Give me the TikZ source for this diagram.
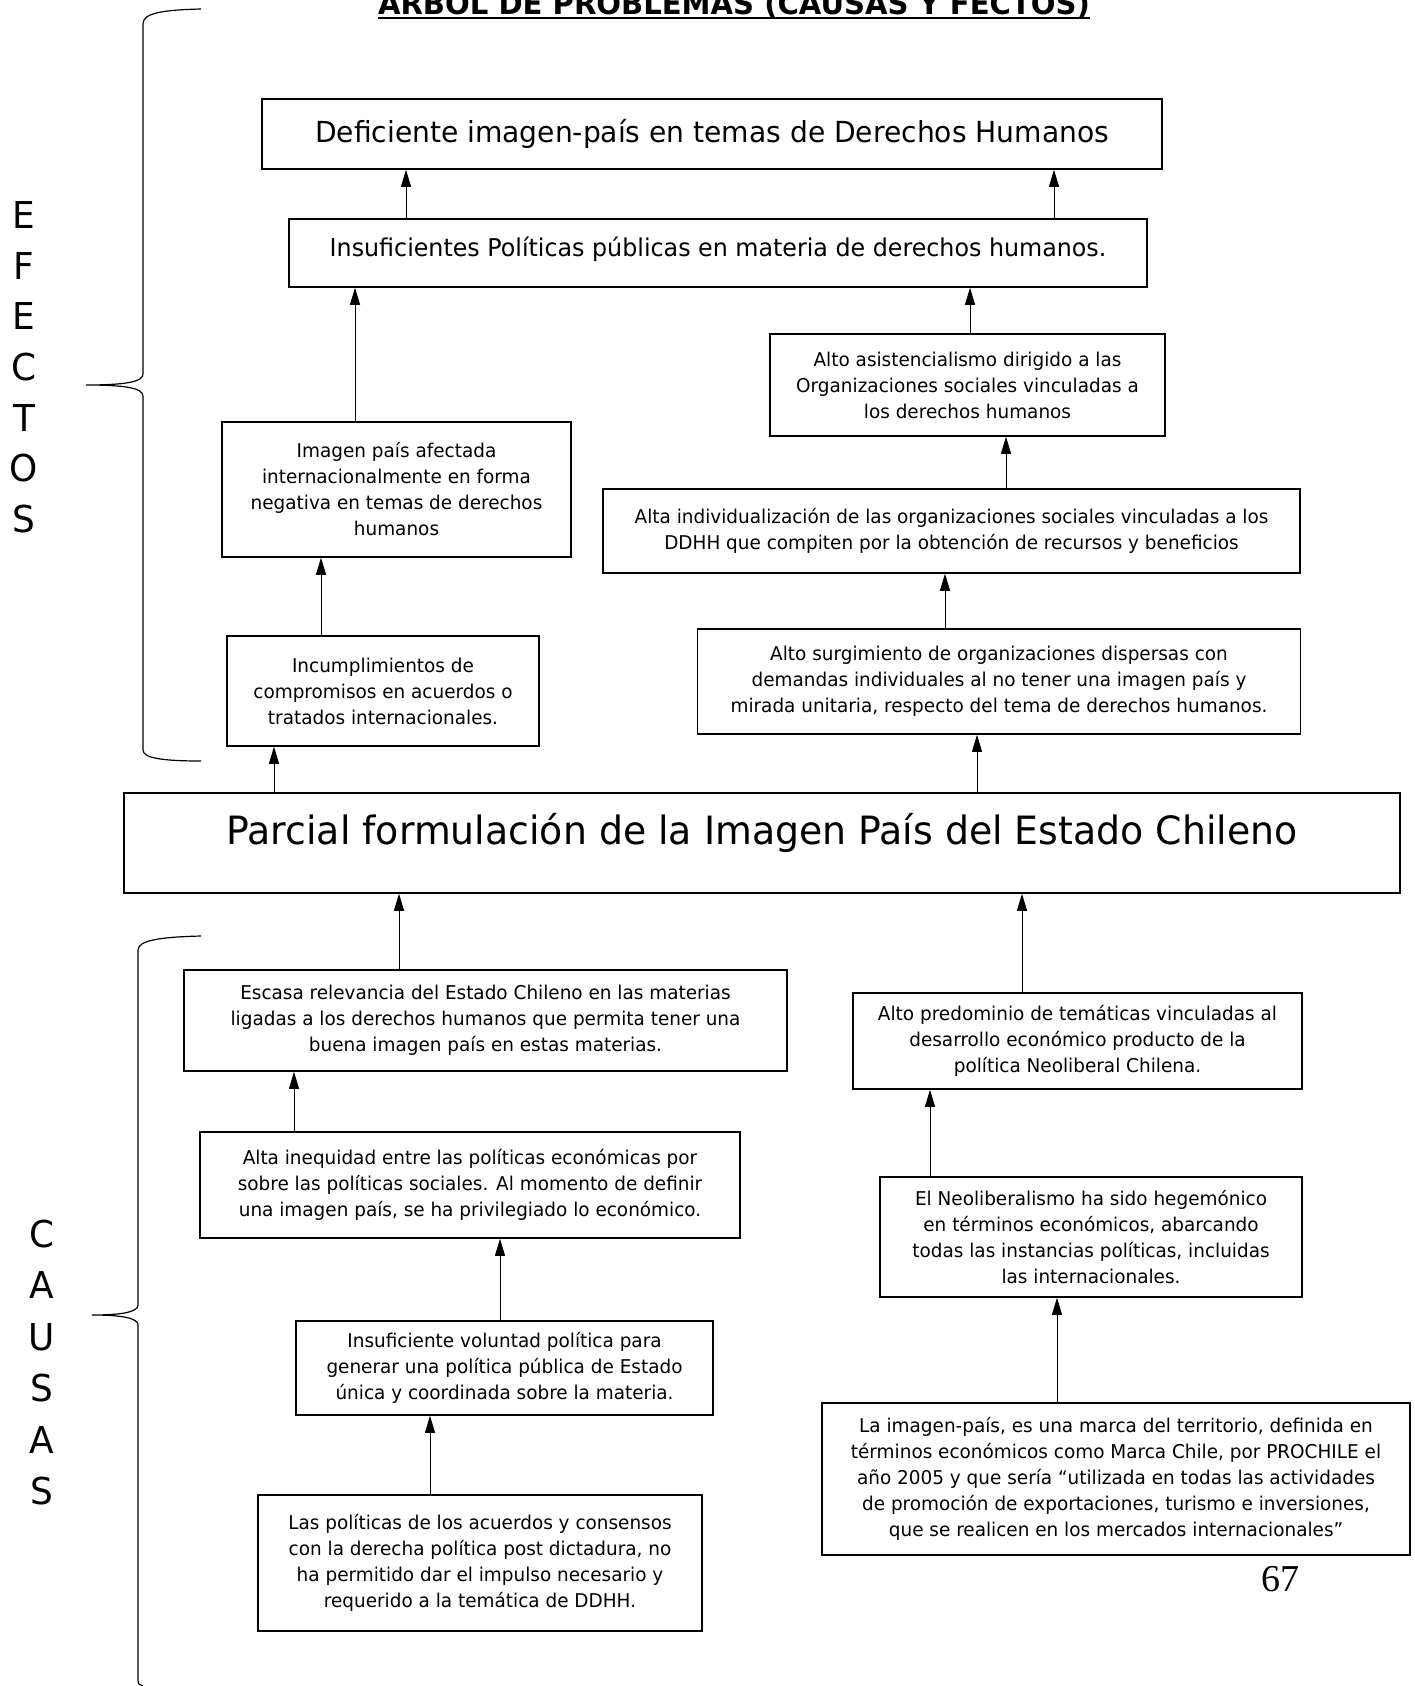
\documentclass[tikz,border=0pt]{standalone}
\usepackage{fontspec}
\setmainfont{DejaVu Sans}[FakeStretch=0.97]
\newfontfamily\folio{Liberation Serif}
\usetikzlibrary{arrows.meta}

\tikzset{
	caja/.style={draw, line width=1.5pt, inner sep=0pt, align=center, font=\fontsize{19}{26}\selectfont},
	flecha/.style={-{Triangle[length=17pt,width=10pt]}, line width=0.9pt},
	letra/.style={font=\fontsize{37}{37}\selectfont, inner sep=0pt},
	llave/.style={line width=1.2pt}
}

\begin{document}
\begin{tikzpicture}[x=1pt, y=-1pt]
	\useasboundingbox (0,0) rectangle (1414,1686);
	% titulo
	\node[anchor=base, inner sep=0pt, font=\bfseries\fontsize{30}{30}\selectfont] (titulo) at (734,15) {ÁRBOL DE PROBLEMAS (CAUSAS Y FECTOS)};
	\draw[line width=2.5pt] ([yshift=-3pt]titulo.base west) -- ([yshift=-3pt]titulo.base east);

	% efectos
	\node[caja, minimum width=900pt, minimum height=70pt, font=\fontsize{29}{29}\selectfont] (def) at (712,134) {Deficiente imagen-país en temas de Derechos Humanos};
	\node[caja, minimum width=858pt, minimum height=68pt, text depth=12pt, font=\fontsize{24.5}{26}\selectfont] (insuf) at (718,253) {Insuficientes Políticas públicas en materia de derechos humanos.};
	\node[caja, minimum width=349pt, minimum height=135pt] (imagen) at (396.5,489.5) {Imagen país afectada\\internacionalmente en forma\\negativa en temas de derechos\\humanos};
	\node[caja, minimum width=395pt, minimum height=102pt] (asist) at (967.5,385) {Alto asistencialismo dirigido a las\\Organizaciones sociales vinculadas a\\los derechos humanos};
	\node[caja, minimum width=697pt, minimum height=84pt] (indiv) at (951.5,531) {Alta individualización de las organizaciones sociales vinculadas a los\\DDHH que compiten por la obtención de recursos y beneficios};
	\node[caja, minimum width=312pt, minimum height=110pt] (incump) at (383,691) {Incumplimientos de\\compromisos en acuerdos o\\tratados internacionales.};
	\node[caja, minimum width=603pt, minimum height=105pt] (surg) at (999,681.5) {Alto surgimiento de organizaciones dispersas con\\demandas individuales al no tener una imagen país y\\mirada unitaria, respecto del tema de derechos humanos.};

	% problema central
	\node[caja, minimum width=1276pt, minimum height=100pt, text depth=28pt, font=\fontsize{39}{39}\selectfont] (parcial) at (762,843) {Parcial formulación de la Imagen País del Estado Chileno};

	% causas
	\node[caja, minimum width=603pt, minimum height=101pt] (escasa) at (485.5,1020.5) {Escasa relevancia del Estado Chileno en las materias\\ligadas a los derechos humanos que permita tener una\\buena imagen país en estas materias.};
	\node[caja, minimum width=449pt, minimum height=96pt] (predom) at (1077.5,1041) {Alto predominio de temáticas vinculadas al\\desarrollo económico producto de la\\política Neoliberal Chilena.};
	\node[caja, minimum width=540pt, minimum height=106pt] (inequidad) at (470,1185) {Alta inequidad entre las políticas económicas por\\sobre las políticas sociales. Al momento de definir\\una imagen país, se ha privilegiado lo económico.};
	\node[caja, minimum width=422pt, minimum height=120pt] (neolib) at (1091,1237) {El Neoliberalismo ha sido hegemónico\\en términos económicos, abarcando\\todas las instancias políticas, incluidas\\las internacionales.};
	\node[caja, minimum width=417pt, minimum height=94pt] (voluntad) at (504.5,1368) {Insuficiente voluntad política para\\generar una política pública de Estado\\única y coordinada sobre la materia.};
	\node[caja, minimum width=444pt, minimum height=136pt] (politicas) at (480,1563) {Las políticas de los acuerdos y consensos\\con la derecha política post dictadura, no\\ha permitido dar el impulso necesario y\\requerido a la temática de DDHH.};
	\node[caja, minimum width=588pt, minimum height=152pt] (marca) at (1116,1479) {La imagen-país, es una marca del territorio, definida en\\términos económicos como Marca Chile, por PROCHILE el\\año 2005 y que sería “utilizada en todas las actividades\\de promoción de exportaciones, turismo e inversiones,\\que se realicen en los mercados internacionales”};

	% flechas causa -> efecto
	\foreach \desde/\hasta/\xx in {insuf/def/406, insuf/def/1054, imagen/insuf/355, asist/insuf/970,
		indiv/asist/1006, incump/imagen/321, surg/indiv/945, parcial/incump/274, parcial/surg/977,
		escasa/parcial/399, predom/parcial/1022, inequidad/escasa/294, neolib/predom/930,
		voluntad/inequidad/500, politicas/voluntad/430, marca/neolib/1057}
	\draw[flecha] (\desde.north -| \xx,0) -- (\hasta.south -| \xx,0);

	% llaves
	\draw[llave] (201,9) .. controls (162,10) and (143,13) .. (143,24) -- (143,374)
		.. controls (143,382) and (125,385) .. (86,385) .. controls (125,385) and (143,388) .. (143,396)
		-- (143,750) .. controls (143,758) and (162,761) .. (201,761);
	\draw[llave] (201,936) .. controls (162,937) and (138,940) .. (138,950) -- (138,1305)
		.. controls (138,1312) and (122,1315) .. (92,1315) .. controls (122,1315) and (138,1318) .. (138,1325)
		-- (138,1680) .. controls (138,1684) and (140,1686) .. (143,1686);
	\foreach \l [count=\i] in {E,F,E,C,T,O,S}
		\node[letra] (efe\i) at (24,{215+50.7*(\i-1)}) {\l};
	\foreach \l [count=\i] in {C,A,U,S,A,S}
		\node[letra] (cau\i) at (42,{1234+51.4*(\i-1)}) {\l};

	\node[inner sep=0pt, font=\folio\fontsize{38}{38}\selectfont] (pagina) at (1280,1579) {67};
\end{tikzpicture}
\end{document}
